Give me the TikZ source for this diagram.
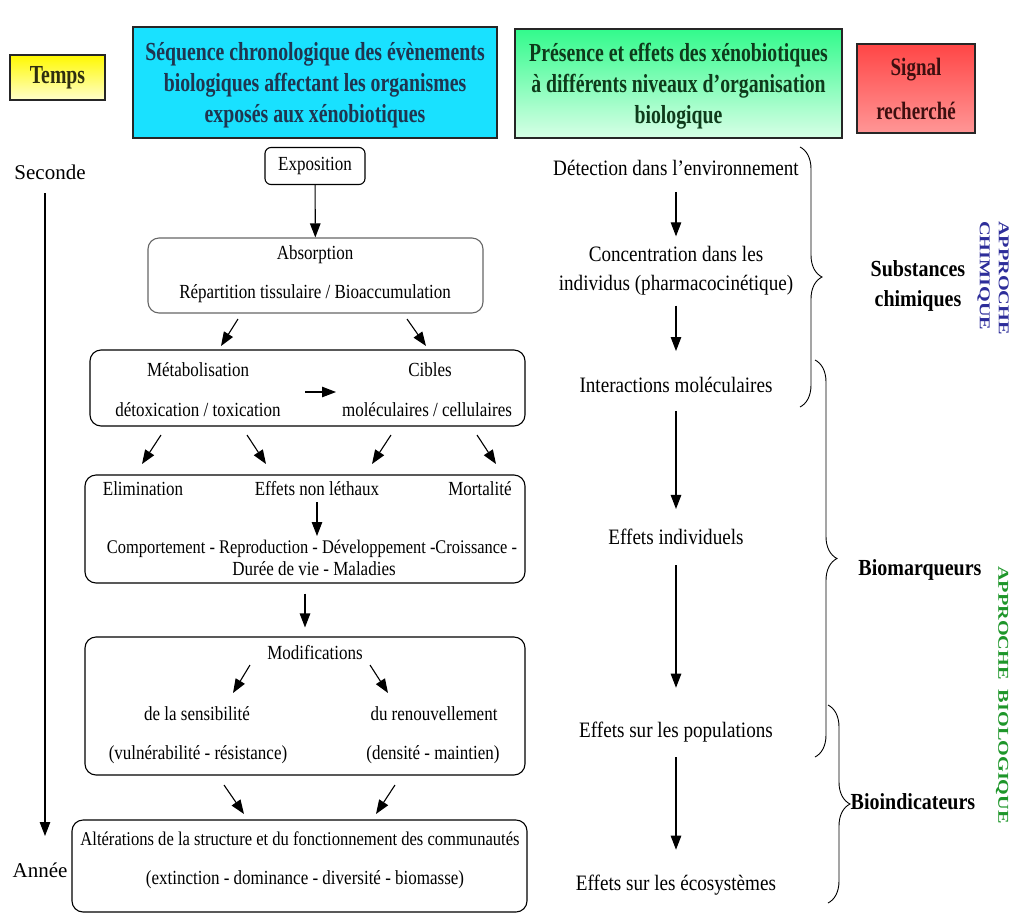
\documentclass[tikz,border=0pt]{standalone}
\usepackage{fontspec}
\setmainfont{Liberation Serif}
\newfontfamily\condfont[FakeStretch=0.85]{Liberation Serif}
\newfontfamily\midfont[FakeStretch=0.87]{Liberation Serif}
\newfontfamily\headfont[FakeStretch=0.76]{Liberation Serif}
\newfontfamily\widefont[FakeStretch=1.35]{Liberation Serif}
\usetikzlibrary{arrows.meta,decorations.pathreplacing}

\definecolor{seqtext}{HTML}{1F3550}
\definecolor{pretext}{HTML}{0E3B1B}
\definecolor{sigtext}{HTML}{3D0F0F}
\definecolor{temtext}{HTML}{2E2E10}
\definecolor{chimblue}{HTML}{2E2E9A}
\definecolor{biogreen}{HTML}{1E962A}

\tikzset{
  hbox/.style={draw=black!85, line width=1.6pt, align=center, inner sep=0pt},
  headtxt/.style={font=\headfont\bfseries\fontsize{26}{31}\selectfont, align=center},
  lbox/.style={draw=black, line width=1.1pt, rounded corners=11pt, inner sep=0pt},
  ltxt/.style={font=\condfont\fontsize{20}{22}\selectfont, inner sep=0pt},
  rtxt/.style={font=\midfont\fontsize{22}{29}\selectfont, inner sep=0pt, align=center},
  sigtxt/.style={font=\midfont\bfseries\fontsize{23}{30}\selectfont, inner sep=0pt, align=center},
  arr/.style={-{Triangle[length=14pt,width=10.5pt]}, line width=1.1pt},
  bracestyle/.style={decorate, decoration={brace, amplitude=22pt}, line width=0.9pt},
  vtxt/.style={font=\widefont\bfseries\fontsize{15}{19}\selectfont, rotate=-90, inner sep=0pt, align=left}
}

\begin{document}
\begin{tikzpicture}[x=1pt, y=-1pt]
\useasboundingbox (0,0) rectangle (1013,922);

% ---------- headers ----------
\node[hbox, minimum width=95, minimum height=45, top color=yellow!95!orange, bottom color=yellow!20] (temps) at (57.5,77.5) {};
\node[headtxt, text=temtext] (tempst) at (temps) {Temps};

\node[hbox, minimum width=364, minimum height=111, fill={rgb,255:red,25;green,225;blue,255}] (seq) at (315,82.5) {};
\node[headtxt, text=seqtext] (seqt) at (315,85) {Séquence chronologique des évènements\\biologiques affectant les organismes\\exposés aux xénobiotiques};

\node[hbox, minimum width=327, minimum height=109, top color={rgb,255:red,50;green,250;blue,140}, bottom color={rgb,255:red,215;green,255;blue,230}] (pres) at (678.5,83.5) {};
\node[headtxt, text=pretext] (prest) at (678.5,86) {Présence et effets des xénobiotiques\\à différents niveaux d’organisation\\biologique};

\node[hbox, minimum width=118, minimum height=89, top color={rgb,255:red,255;green,70;blue,70}, bottom color={rgb,255:red,255;green,150;blue,150}] (sig) at (916,88.5) {};
\node[headtxt, text=sigtext, font=\headfont\bfseries\fontsize{25}{44}\selectfont] (sigt) at (sig) {Signal\\recherché};

% ---------- time axis ----------
\node[rtxt, font=\fontsize{21}{24}\selectfont] (seconde) at (50,172) {Seconde};
\node[rtxt, font=\fontsize{21}{24}\selectfont] (annee) at (40,870) {Année};
\coordinate (tstart) at (45,193);
\coordinate (tend) at (45,836);
\draw[arr] (tstart) -- (tend);

% ---------- left column: sequence of events ----------
\node[lbox, rounded corners=6pt, minimum width=100, minimum height=37] (expo) at (315,166) {};
\node[ltxt] (expot) at (expo) {Exposition};

\node[lbox, draw=black!60, minimum width=335, minimum height=75] (absorb) at (315.5,275.5) {};
\node[ltxt] (absorbt) at (315,255) {Absorption};
\node[ltxt] (repart) at (315,294) {Répartition tissulaire / Bioaccumulation};

\node[lbox, minimum width=435, minimum height=76] (metab) at (307.5,388) {};
\node[ltxt] (metabt) at (198,370) {Métabolisation};
\node[ltxt] (detox) at (198,410) {détoxication / toxication};
\node[ltxt] (cibles) at (430,370) {Cibles};
\node[ltxt] (molec) at (427,410) {moléculaires / cellulaires};

\node[lbox, minimum width=440, minimum height=108] (elim) at (305,529) {};
\node[ltxt] (elimt) at (143,489) {Elimination};
\node[ltxt] (nonleth) at (317,489) {Effets non léthaux};
\node[ltxt] (mort) at (480,489) {Mortalité};
\node[ltxt, font=\condfont\fontsize{19.3}{22}\selectfont] (compt) at (312,549) {Comportement - Reproduction - Développement -Croissance -};
\node[ltxt] (duree) at (314,569) {Durée de vie - Maladies};

\node[lbox, minimum width=440, minimum height=138] (modif) at (305,706) {};
\node[ltxt] (modift) at (315,653) {Modifications};
\node[ltxt] (sensib) at (197,714) {de la sensibilité};
\node[ltxt] (renouv) at (434,714) {du renouvellement};
\node[ltxt] (vuln) at (198,755) {(vulnérabilité - résistance)};
\node[ltxt] (dens) at (433,755) {(densité - maintien)};

\node[lbox, minimum width=455, minimum height=92] (alter) at (299.5,866) {};
\node[ltxt, font=\condfont\fontsize{19.5}{22}\selectfont] (altert) at (300,839) {Altérations de la structure et du fonctionnement des communautés};
\node[ltxt] (extinct) at (305,880) {(extinction - dominance - diversité - biomasse)};

% arrows of the left column
\draw[arr] (expo) -- (absorb);
\coordinate (ab1) at (238,319); \coordinate (ab1e) at (221,346);
\coordinate (ab2) at (407,319); \coordinate (ab2e) at (426,346);
\draw[arr] (ab1) -- (ab1e);
\draw[arr] (ab2) -- (ab2e);
\coordinate (mc1) at (305,392); \coordinate (mc2) at (336,392);
\draw[arr] (mc1) -- (mc2);
\coordinate (m1) at (161,435); \coordinate (m1e) at (142,464);
\coordinate (m2) at (247,435); \coordinate (m2e) at (266,464);
\coordinate (m3) at (391,435); \coordinate (m3e) at (372,464);
\coordinate (m4) at (477,435); \coordinate (m4e) at (496,464);
\draw[arr] (m1) -- (m1e);
\draw[arr] (m2) -- (m2e);
\draw[arr] (m3) -- (m3e);
\draw[arr] (m4) -- (m4e);
\coordinate (nl1) at (317,502); \coordinate (nl2) at (317,536);
\draw[arr] (nl1) -- (nl2);
\draw[arr, shorten <=10pt, shorten >=9pt] (elim) -- (modif);
\coordinate (mo1) at (250,665); \coordinate (mo1e) at (233,693);
\coordinate (mo2) at (370,665); \coordinate (mo2e) at (388,693);
\draw[arr] (mo1) -- (mo1e);
\draw[arr] (mo2) -- (mo2e);
\coordinate (al1) at (224,785); \coordinate (al1e) at (244,814);
\coordinate (al2) at (395,785); \coordinate (al2e) at (376,814);
\draw[arr] (al1) -- (al1e);
\draw[arr] (al2) -- (al2e);

% ---------- middle column: levels of organisation ----------
\node[rtxt] (detect) at (676,168) {Détection dans l’environnement};
\node[rtxt] (conc) at (676,271) {Concentration dans les\\individus (pharmacocinétique)};
\node[rtxt] (inter) at (676,385) {Interactions moléculaires};
\node[rtxt] (indiv) at (676,537) {Effets individuels};
\node[rtxt] (popul) at (676,732) {Effets sur les populations};
\node[rtxt] (ecos) at (676,885) {Effets sur les écosystèmes};

\draw[arr, shorten <=16pt, shorten >=10pt] (detect) -- (conc);
\draw[arr, shorten <=10pt, shorten >=26pt] (conc) -- (inter);
\draw[arr, shorten <=18pt, shorten >=20pt] (inter) -- (indiv);
\draw[arr, shorten <=20pt, shorten >=34pt] (indiv) -- (popul);
\draw[arr, shorten <=15pt, shorten >=25pt] (popul) -- (ecos);

% ---------- braces and signals ----------
\coordinate (b1t) at (800,147); \coordinate (b1b) at (800,407);
\coordinate (b2t) at (815,360); \coordinate (b2b) at (815,757);
\coordinate (b3t) at (828,705); \coordinate (b3b) at (828,903);
\draw[bracestyle] (b1t) -- (b1b);
\draw[bracestyle] (b2t) -- (b2b);
\draw[bracestyle] (b3t) -- (b3b);

\node[sigtxt] (subst) at (918,286) {Substances\\chimiques};
\node[sigtxt] (biomq) at (920,570) {Biomarqueurs};
\node[sigtxt] (bioind) at (913,802) {Bioindicateurs};

\node[vtxt, text=chimblue, anchor=center] (apchim) at (993,278) {APPROCHE\\CHIMIQUE};
\node[vtxt, text=biogreen, anchor=center] (apbio) at (1002,695) {APPROCHE\ \ BIOLOGIQUE};

\end{tikzpicture}
\end{document}
